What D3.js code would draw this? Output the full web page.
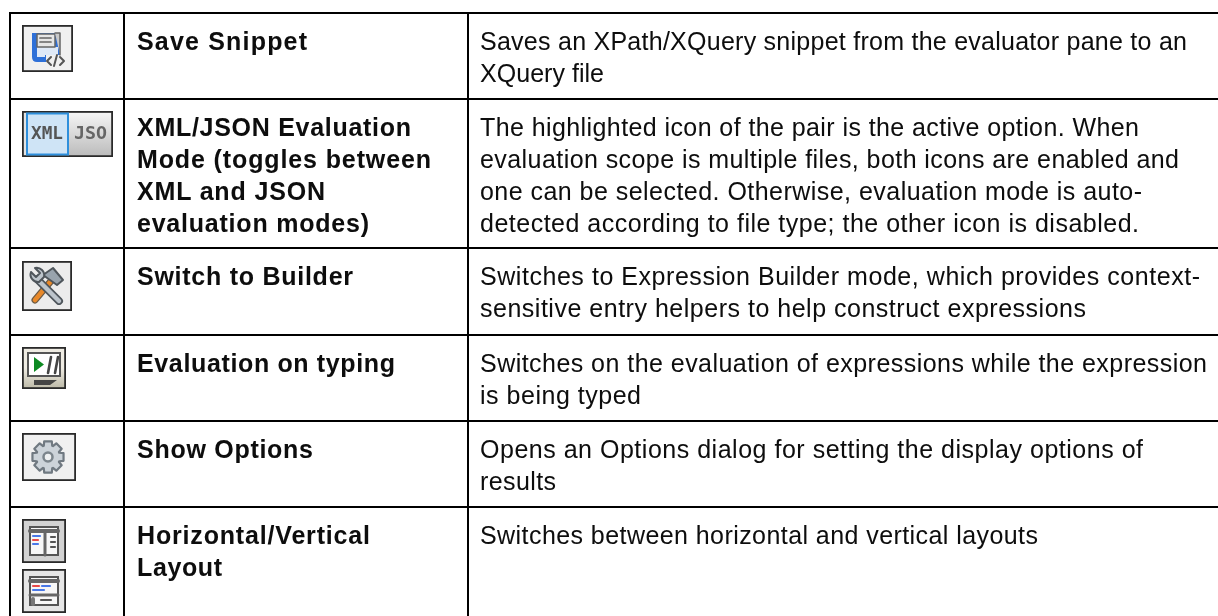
<!DOCTYPE html>
<html><head><meta charset="utf-8">
<script src="https://cdn.jsdelivr.net/npm/d3@7"></script>
<style>html,body{margin:0;padding:0;background:#fff;overflow:hidden}svg{display:block}
text{font-family:"Liberation Sans",Arial,sans-serif;font-size:25px;fill:#0a0a0a}
.b text{font-weight:700}</style></head><body>
<svg id="c" width="1218" height="616"></svg>
<script>
const rowKeys=["save","mode","builder","typing","options","layout"];
const commandLines=[["Save Snippet"],["XML/JSON Evaluation","Mode (toggles between","XML and JSON","evaluation modes)"],["Switch to Builder"],["Evaluation on typing"],["Show Options"],["Horizontal/Vertical","Layout"]];
const descriptionLines=[
["Saves an XPath/XQuery snippet from the evaluator pane to an","XQuery file"],
["The highlighted icon of the pair is the active option. When","evaluation scope is multiple files, both icons are enabled and","one can be selected. Otherwise, evaluation mode is auto-","detected according to file type; the other icon is disabled."],
["Switches to Expression Builder mode, which provides context-","sensitive entry helpers to help construct expressions"],
["Switches on the evaluation of expressions while the expression","is being typed"],
["Opens an Options dialog for setting the display options of","results"],
["Switches between horizontal and vertical layouts"]];
const rowEdges=[13,99,248,335,421,507];
const colEdges=[10,124,468];
const commandEnds=[[307],[411,431,325,369],[353],[395],[313],[370,222]];
const descriptionEnds=[[1187,604],[1139,1179,1142,1139],[1200,1086],[1207,641],[1143,556],[1038]];
const W=1218,H=616,lh=32;
const svg=d3.select("#c");
const defs=svg.append("defs");
defs.append("filter").attr("id","soft").append("feGaussianBlur").attr("stdDeviation",.7);
defs.append("filter").attr("id","txt").attr("x",0).attr("y",0).attr("width",1).attr("height",1).append("feGaussianBlur").attr("stdDeviation",.3);
const y=d3.scaleOrdinal().domain(rowKeys).range(rowEdges);
svg.append("g").selectAll("line").data(rowKeys).join("line").attr("x1",colEdges[0]).attr("x2",W).attr("y1",d=>y(d)).attr("y2",d=>y(d)).attr("stroke","#000").attr("stroke-width",2);
svg.append("g").selectAll("line").data(colEdges).join("line").attr("x1",d=>d).attr("x2",d=>d).attr("y1",12).attr("y2",H).attr("stroke","#000").attr("stroke-width",2);
function texts(arr,ends,x,cls){
 const g=svg.append("g").attr("class",cls).attr("filter","url(#txt)");
 rowKeys.forEach((k,i)=>g.selectAll("t"+i).data(arr[i]).join("text").attr("x",x).attr("y",(d,j)=>y(k)+37+j*lh)
   .attr("textLength",(d,j)=>ends[i][j]-x).attr("lengthAdjust","spacing").text(d=>d));
}
texts(commandLines,commandEnds,137,"b");
texts(descriptionLines,descriptionEnds,480,"r");
function frame(x,y0,w,h,fill){
 const g=svg.append("g").attr("transform",`translate(${x},${y0})`);
 g.append("rect").attr("x",.9).attr("y",.9).attr("width",w-1.8).attr("height",h-1.8).attr("fill",fill||"#f0f0f0").attr("stroke","#2a2a2a").attr("stroke-width",1.8);
 return g.append("g").attr("filter","url(#soft)");
}
const p=(g,d,f,s,sw)=>g.append("path").attr("d",d).attr("fill",f||"none").attr("stroke",s||"none").attr("stroke-width",sw||1).attr("stroke-linejoin","round").attr("stroke-linecap","round");
// save
let g=frame(22,25,51,47);
p(g,"M10 8H38V30H24V37H15Q10 37 10 32Z","#2f6fd8");
p(g,"M15 22H36V30H23V32H15Z","#dfe9f7");
p(g,"M15 9H33V22H15Z","#e6e6e6","#666",1.5);
p(g,"M18 13H29M18 17H29","none","#666",1.7);
p(g,"M33 8H38V30","#c9c9c9","#666",1.5);
p(g,"M29 32L25 36L29 40M35 30L32 41M38 32L42 36L38 40","none","#555",2);
// xml/json
g=frame(22,111,91,46,"#e2e2e2");
const grad=defs.append("linearGradient").attr("id","gr").attr("x2",0).attr("y2",1);
grad.append("stop").attr("offset",0).attr("stop-color","#f4f4f4");grad.append("stop").attr("offset",1).attr("stop-color","#bdbdbd");
g.append("rect").attr("x",46).attr("y",2).attr("width",43).attr("height",42).attr("fill","url(#gr)");
g.append("rect").attr("x",5).attr("y",2.5).attr("width",41).attr("height",41).attr("fill","#cfe4f6").attr("stroke","#2f8fdc").attr("stroke-width",2);
[["XML",9,32,"#555"],["JSO",52,33,"#666"]].forEach(([t,x,w,c])=>g.append("text").attr("x",x).attr("y",28).attr("textLength",w).attr("lengthAdjust","spacingAndGlyphs").style("font-family","DejaVu Sans Mono").style("font-weight",700).style("font-size","17px").style("fill",c).text(t));
// tools
g=frame(22,261,50,50,"#ececec");
p(g,"M13 39L29 20","none","#6b5a45",7);
p(g,"M13 39L29 20","none","#e8892c",4.5);
p(g,"M21 14L31 7L41 19L35 24Z","#98a3ad","#4f565c",2);
p(g,"M16 19L37 40","none","#4f565c",8);
p(g,"M16 19L37 40","none","#bcc4cb",4.5);
p(g,"M17 21A7.5 7.5 0 0 1 9 11L14 16L18 12L13 7A7.5 7.5 0 0 1 22 16Z","#bcc4cb","#4f565c",2);
// eval typing
const eg=defs.append("linearGradient").attr("id","eg").attr("x2",0).attr("y2",1);
eg.append("stop").attr("offset",.5).attr("stop-color","#efece3");eg.append("stop").attr("offset",1).attr("stop-color","#bdbaa8");
g=frame(22,347,44,42,"url(#eg)");
g.append("rect").attr("x",6).attr("y",6).attr("width",32).attr("height",23).attr("fill","#fff").attr("stroke","#555").attr("stroke-width",2);
p(g,"M12 10L22 17.5L12 25Z","#0f8a22");
p(g,"M26 26L29 10M33 26L36 10","none","#444",2.6);
p(g,"M12 33H35L28 38H12Z","#444");
// gear
g=frame(22,433,54,48);
const gear=d3.range(8).flatMap(i=>{const a=i*Math.PI/4,o=.24,c=26,d=24,R=16,r=12;const pt=(rad,an)=>[c+rad*Math.cos(an),d+rad*Math.sin(an)];return [pt(r,a-o*1.5),pt(R,a-o),pt(R,a+o),pt(r,a+o*1.5)];});
p(g,d3.line()(gear)+"Z","#ccd3d9","#6f7981",2.2);
g.append("circle").attr("cx",26).attr("cy",24).attr("r",4.5).attr("fill","#eef0f1").attr("stroke","#7b858c").attr("stroke-width",2.5);
// layouts
function panel(g){g.append("rect").attr("x",8).attr("y",8).attr("width",28).attr("height",28).attr("fill","#f7f7f7").attr("stroke","#555").attr("stroke-width",2);p(g,"M8 12H36","none","#666",4);}
g=frame(22,519,44,44,"#d2d2d2");panel(g);
p(g,"M23 14V36","#bbb","#666",3);
p(g,"M11 17H18","none","#4a78e8",2.2);p(g,"M11 21H16","none","#e84a4a",2.2);p(g,"M11 25H16","none","#4a78e8",2.2);
p(g,"M29 18H33M29 23H33M29 28H33","none","#555",2.2);
g=frame(22,569,44,44,"#e6e6e6");panel(g);
p(g,"M8 26H36","none","#666",3);
p(g,"M11 17H17","none","#e84a4a",2.2);p(g,"M20 17H28","none","#4a78e8",2.2);p(g,"M11 21H22","none","#4a78e8",2.2);
p(g,"M11 30V35","none","#777",4);p(g,"M19 31H29","none","#555",2.2);
</script></body></html>
